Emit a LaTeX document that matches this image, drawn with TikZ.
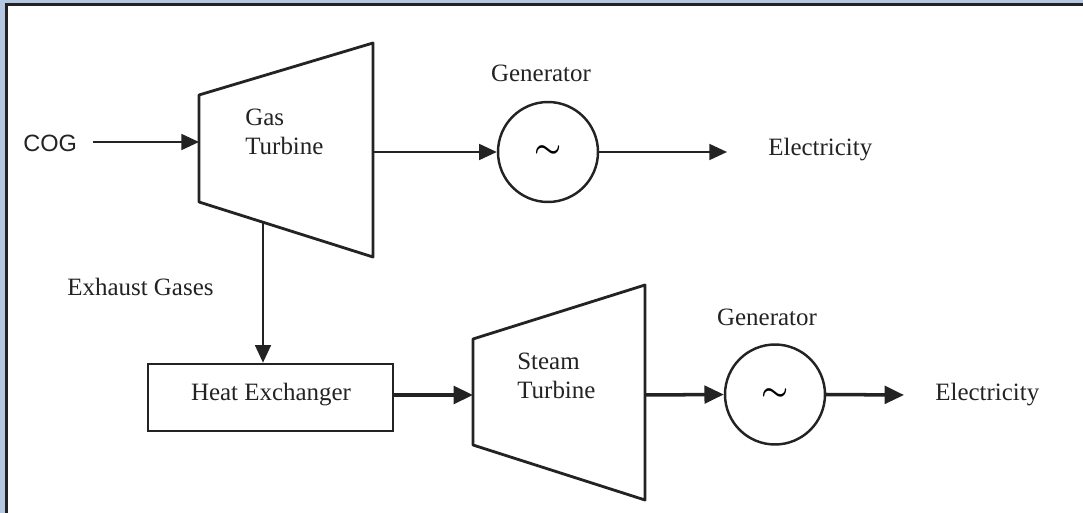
\documentclass[tikz,border=0pt]{standalone}
\usepackage{fontspec}
\setmainfont{Liberation Serif}
\newfontfamily\cogfont{Liberation Sans}
\usepackage{tikz}
\usetikzlibrary{arrows.meta}
\definecolor{framebl}{RGB}{180,200,228}
\definecolor{ink}{RGB}{35,35,35}
\tikzset{
  lbl/.style={font=\fontsize{14.2}{17}\selectfont, text=ink, inner sep=0pt},
  turb/.style={draw=ink, line width=1.6pt, line join=round},
  flow/.style={draw=ink, line width=1.2pt, -{Triangle[length=10pt,width=9pt]}},
  heavy/.style={draw=ink, line width=2pt, -{Triangle[length=11pt,width=10pt]}},
  gen/.style={circle, draw=ink, line width=1.4pt, minimum size=2cm, inner sep=0pt, font=\fontsize{19}{19}\selectfont\boldmath},
  hxbox/.style={draw=ink, line width=1.5pt, minimum width=4.9cm, minimum height=1.34cm}
}

\begin{document}
\begin{tikzpicture}[x=0.02cm, y=-0.02cm]
        \useasboundingbox (0,0) rectangle (1083,513);
        % frame
        \fill[framebl] (0,0) rectangle (1083,513);
        \fill[white] (7,5) rectangle (1083,513);
        \draw[ink, line width=1.2pt] (6.5,513) -- (6.5,4.5) -- (1083,4.5);

        % gas turbine
        \draw[turb] (199,95) -- (373,43) -- (373,257) -- (199,202) -- cycle;
        \coordinate (gt-in) at (199,142);
        \coordinate (gt-out) at (373,152);
        \coordinate (gt-ex) at (263,222);
        \node[lbl, anchor=west] (gtlabel) at (245,134) {\begin{tabular}{@{}l@{}}Gas\\Turbine\end{tabular}};

        % steam turbine
        \draw[turb] (473,339) -- (645,285) -- (645,500) -- (473,445) -- cycle;
        \coordinate (st-in) at (473,395);
        \coordinate (st-out) at (645,395);
        \node[lbl, anchor=west] (stlabel) at (517,378) {\begin{tabular}{@{}l@{}}Steam\\Turbine\end{tabular}};

        % top line
        \node[lbl, font=\cogfont\fontsize{13.4}{16}\selectfont, anchor=west] (cog) at (23,143) {COG};
        \node[gen] (gen1) at (548,152) {$\sim$};
        \node[lbl] (gen1label) at (541,73) {Generator};
        \node[lbl, anchor=west] (elec1) at (768,150) {Electricity};
        \coordinate (elec1-tip) at (727,152);

        \draw[flow] (93,142) -- (gt-in);
        \draw[flow] (gt-out) -- (gen1.west);
        \draw[flow] (gen1.east) -- (elec1-tip);

        % bottom line
        \node[lbl, anchor=west] (exhaust) at (67,287) {Exhaust Gases};
        \node[hxbox] (hx) at (270.5,397.5) {};
        \node[lbl] (hxlabel) at (271,395) {Heat Exchanger};
        \node[gen] (gen2) at (775,394.5) {$\sim$};
        \node[lbl] (gen2label) at (767,317) {Generator};
        \node[lbl, anchor=west] (elec2) at (935,395) {Electricity};
        \coordinate (elec2-tip) at (904,395);

        \draw[flow] (gt-ex) -- (gt-ex |- hx.north);
        \draw[heavy] (hx.east |- st-in) -- (st-in);
        \draw[heavy] (st-out) -- (gen2.west);
        \draw[heavy] (gen2.east) -- (elec2-tip);
    \end{tikzpicture}
\end{document}
